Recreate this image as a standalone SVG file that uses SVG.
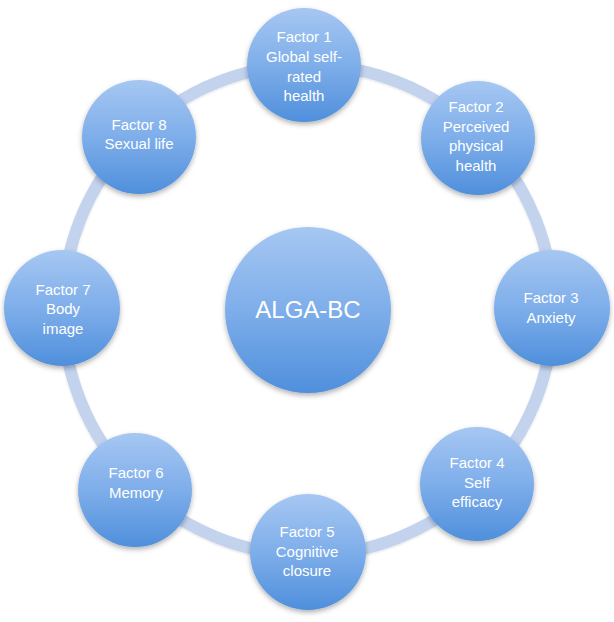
<svg xmlns="http://www.w3.org/2000/svg" width="614" height="622" viewBox="0 0 614 622">
<defs>
<linearGradient id="g" x1="0" y1="0" x2="0" y2="1">
<stop offset="0" stop-color="#a6c7f2"/>
<stop offset="0.5" stop-color="#7eaeea"/>
<stop offset="1" stop-color="#4f8fdc"/>
</linearGradient>
<filter id="sh" x="-20%" y="-20%" width="140%" height="150%">
<feDropShadow dx="0" dy="2.5" stdDeviation="2.5" flood-color="#000" flood-opacity="0.3"/>
</filter>
<filter id="rs" x="-10%" y="-10%" width="120%" height="120%">
<feDropShadow dx="0" dy="1" stdDeviation="1" flood-color="#000" flood-opacity="0.12"/>
</filter>
</defs>
<style>
.n{fill:url(#g);filter:url(#sh)}
.t{font-family:"Liberation Sans",Arial,sans-serif;font-size:15px;fill:#fff;text-anchor:middle}
.c{font-family:"Liberation Sans",Arial,sans-serif;font-size:24px;fill:#fff;text-anchor:middle}
</style>
<rect width="614" height="622" fill="#fff"/>
<g id="connectors">
<circle cx="308" cy="310" r="245" fill="none" stroke="#c3d3ee" stroke-width="12" filter="url(#rs)"/>
</g>
<g id="center">
<circle class="n" cx="308" cy="310" r="83"/>
<text class="c" x="308" y="318">ALGA-BC</text>
</g>
<g id="factor1">
<circle class="n" cx="304" cy="65" r="57"/>
<text class="t" x="304" y="42">Factor 1</text>
<text class="t" x="304" y="62">Global self-</text>
<text class="t" x="304" y="82">rated</text>
<text class="t" x="304" y="101">health</text>
</g>
<g id="factor2">
<circle class="n" cx="478" cy="138" r="57"/>
<text class="t" x="476" y="112">Factor 2</text>
<text class="t" x="476" y="132">Perceived</text>
<text class="t" x="476" y="151">physical</text>
<text class="t" x="476" y="171">health</text>
</g>
<g id="factor3">
<circle class="n" cx="552" cy="308" r="58"/>
<text class="t" x="551" y="303">Factor 3</text>
<text class="t" x="551" y="323">Anxiety</text>
</g>
<g id="factor4">
<circle class="n" cx="477" cy="484" r="57"/>
<text class="t" x="477" y="468">Factor 4</text>
<text class="t" x="477" y="488">Self</text>
<text class="t" x="477" y="507">efficacy</text>
</g>
<g id="factor5">
<circle class="n" cx="308" cy="552" r="58"/>
<text class="t" x="307" y="537">Factor 5</text>
<text class="t" x="307" y="557">Cognitive</text>
<text class="t" x="307" y="576">closure</text>
</g>
<g id="factor6">
<circle class="n" cx="135" cy="490" r="57"/>
<text class="t" x="136" y="478">Factor 6</text>
<text class="t" x="136" y="498">Memory</text>
</g>
<g id="factor7">
<circle class="n" cx="62" cy="308" r="58"/>
<text class="t" x="63" y="295">Factor 7</text>
<text class="t" x="63" y="314">Body</text>
<text class="t" x="63" y="334">image</text>
</g>
<g id="factor8">
<circle class="n" cx="139" cy="137" r="57"/>
<text class="t" x="139" y="130">Factor 8</text>
<text class="t" x="139" y="149">Sexual life</text>
</g>
</svg>
